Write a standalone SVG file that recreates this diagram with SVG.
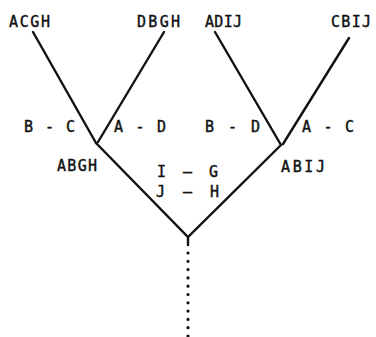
<svg xmlns="http://www.w3.org/2000/svg" width="376" height="337" viewBox="0 0 376 337">
<style>
text{font-family:"DejaVu Sans Mono","Liberation Mono",monospace;font-size:15px;fill:#111;stroke:#111;stroke-width:0.4}
.ln{stroke:#111;stroke-width:2.4;fill:none;stroke-linecap:round;stroke-linejoin:miter}
.dot{stroke:#111;stroke-width:3.2;fill:none;stroke-linecap:round;stroke-dasharray:0 8.3}
</style>
<rect width="376" height="337" fill="#fff"/>
<g id="connectors">
<path class="ln" d="M33 32 L96 143 M164 32 L98 142"/>
<path class="ln" d="M215 32 L281 145 M349 38 L283 144"/>
<path class="ln" d="M96 143 L188 237 L281 145 M188 237 L188 245"/>
<path class="dot" d="M188 253 L188 337"/>
</g>
<g id="n-acgh"><text x="9" y="27" textLength="41" lengthAdjust="spacing">ACGH</text></g>
<g id="n-dbgh"><text x="137" y="27" textLength="43" lengthAdjust="spacing">DBGH</text></g>
<g id="n-adij"><text x="205" y="27" textLength="37" lengthAdjust="spacing">ADIJ</text></g>
<g id="n-cbij"><text x="331" y="27" textLength="40" lengthAdjust="spacing">CBIJ</text></g>
<g id="n-abgh"><text x="57" y="171" textLength="40" lengthAdjust="spacing">ABGH</text></g>
<g id="n-abij"><text x="281" y="172" textLength="44" lengthAdjust="spacing">ABIJ</text></g>
<g id="lbl-bc"><text x="24" y="132" textLength="51" lengthAdjust="spacing">B - C</text></g>
<g id="lbl-ad"><text x="114" y="132" textLength="52" lengthAdjust="spacing">A - D</text></g>
<g id="lbl-bd"><text x="205" y="132" textLength="55" lengthAdjust="spacing">B - D</text></g>
<g id="lbl-ac"><text x="302" y="132" textLength="52" lengthAdjust="spacing">A - C</text></g>
<g id="lbl-ig"><text x="157" y="177" textLength="61" lengthAdjust="spacing">I — G</text></g>
<g id="lbl-jh"><text x="156" y="197" textLength="63" lengthAdjust="spacing">J — H</text></g>
</svg>
